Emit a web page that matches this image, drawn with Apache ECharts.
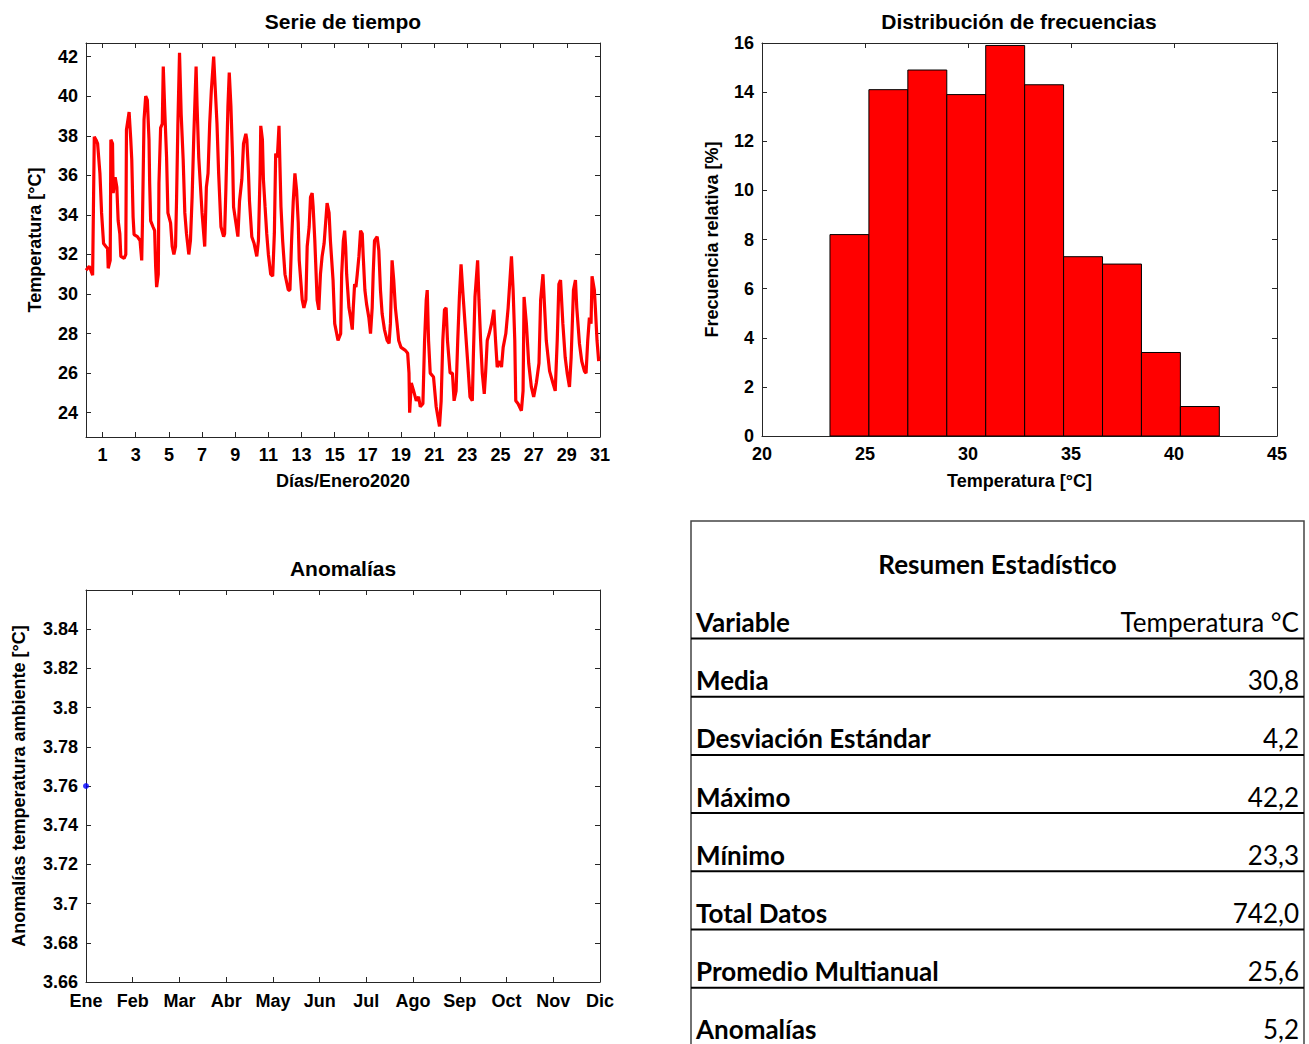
<!DOCTYPE html>
<html>
<head>
<meta charset="utf-8">
<script src="https://cdn.jsdelivr.net/npm/echarts@6/dist/echarts.min.js"></script>
<style>
html,body{margin:0;padding:0;background:#fff;}
#c{width:1309px;height:1044px;}
</style>
</head>
<body>
<div id="c"></div>
<script>
// ---------- DATA ----------
// Serie de tiempo (día del mes, temperatura °C)
const dias = [
0.00,0.20,0.40,0.50,0.60,0.70,0.84,0.94,1.06,1.20,1.30,1.34,1.46,1.50,1.60,1.64,1.76,1.86,1.94,2.04,
2.10,2.30,2.40,2.44,2.60,2.70,2.76,2.84,2.90,3.10,3.26,3.36,3.40,3.50,3.60,3.70,3.80,3.84,3.90,4.04,
4.14,4.20,4.26,4.36,4.40,4.50,4.60,4.66,4.74,4.86,4.94,5.10,5.20,5.30,5.40,5.46,5.54,5.64,5.74,5.86,
5.96,6.06,6.20,6.30,6.40,6.50,6.64,6.70,6.80,7.00,7.16,7.26,7.36,7.46,7.56,7.70,7.80,7.90,8.00,8.14,
8.30,8.36,8.44,8.56,8.64,8.74,8.84,8.90,9.04,9.16,9.26,9.40,9.50,9.64,9.70,9.80,9.86,10.00,10.14,10.30,
10.40,10.50,10.54,10.64,10.70,10.80,10.90,11.00,11.14,11.26,11.36,11.44,11.54,11.64,11.70,11.76,11.86,12.00,12.20,12.30,
12.40,12.50,12.60,12.70,12.80,12.86,13.04,13.14,13.26,13.34,13.46,13.54,13.64,13.70,13.80,13.94,14.04,14.14,14.24,14.36,
14.54,14.66,14.74,14.90,15.00,15.20,15.36,15.42,15.52,15.60,15.66,15.72,15.86,15.96,16.06,16.12,16.20,16.28,16.36,16.46,
16.56,16.66,16.72,16.82,16.92,17.06,17.16,17.26,17.32,17.40,17.56,17.66,17.76,17.86,18.00,18.16,18.28,18.36,18.46,18.56,
18.66,18.76,18.86,19.00,19.26,19.40,19.48,19.52,19.62,19.76,19.92,20.06,20.16,20.32,20.42,20.52,20.58,20.66,20.76,20.96,
21.12,21.22,21.32,21.42,21.52,21.62,21.72,21.80,21.96,22.10,22.20,22.32,22.42,22.52,22.62,22.72,22.86,23.00,23.16,23.30,
23.36,23.46,23.62,23.70,23.80,23.90,24.02,24.10,24.20,24.32,24.46,24.60,24.70,24.80,24.96,25.06,25.16,25.32,25.46,25.66,
25.76,25.86,25.92,26.06,26.26,26.36,26.42,26.56,26.70,26.86,27.00,27.16,27.32,27.42,27.56,27.66,27.76,27.96,28.16,28.30,
28.42,28.52,28.62,28.76,28.90,29.02,29.16,29.26,29.40,29.52,29.60,29.76,29.90,30.06,30.16,30.26,30.36,30.46,30.52,30.66,
30.72,30.82,30.92
];
const temperaturas = [
31.2,31.4,30.95,37.95,37.8,37.6,36.1,34.1,32.55,32.4,32.3,31.3,31.7,37.8,37.6,35.1,35.9,35.4,33.7,33.05,
31.9,31.8,32.0,38.3,39.2,37.8,36.8,33.9,33.0,32.9,32.7,31.7,33.4,38.8,40.0,39.8,37.8,35.6,33.7,33.4,
33.2,31.4,30.35,31.0,35.6,38.4,38.6,41.5,39.5,36.9,34.1,33.6,32.4,32.0,32.4,34.7,38.5,42.2,39.1,36.8,
34.1,33.05,32.0,32.7,34.9,37.95,41.5,39.5,36.9,34.1,32.4,35.4,36.1,38.6,40.3,42.0,40.3,38.6,36.1,33.4,
32.9,33.05,35.4,39.5,41.2,39.5,36.9,34.4,33.6,32.9,34.7,35.8,37.6,38.1,37.8,36.1,34.7,32.9,32.55,31.9,
32.7,36.1,38.5,37.8,35.8,34.4,33.05,32.0,31.0,30.9,33.05,37.1,36.9,38.5,36.4,34.4,32.7,31.0,30.2,30.2,
32.7,34.7,36.1,35.25,33.6,31.7,29.7,29.3,29.7,32.4,33.4,34.9,35.1,34.4,32.7,29.7,29.2,31.0,31.9,32.55,
34.6,34.1,32.7,30.7,28.5,27.65,28.0,31.0,32.7,33.2,32.4,31.0,29.3,28.8,28.2,29.3,30.5,30.35,31.0,31.9,
33.2,33.05,31.9,30.2,29.5,28.8,28.0,29.3,31.0,32.7,32.9,32.2,30.2,29.0,28.2,27.65,27.5,28.5,31.7,30.7,
29.3,28.5,27.65,27.3,27.15,27.0,26.0,24.0,25.5,25.1,24.6,24.8,24.3,24.45,27.65,29.7,30.2,27.65,26.0,25.8,
24.3,23.8,23.3,24.6,27.65,29.2,29.3,27.65,26.0,26.0,24.6,25.1,27.65,29.85,31.5,30.2,28.5,26.8,24.8,24.6,
26.8,29.85,31.7,29.7,27.65,26.0,24.95,26.0,27.65,28.0,28.5,29.2,27.65,26.3,26.6,26.3,27.3,28.0,29.3,31.9,
30.2,27.65,24.6,24.45,24.1,25.1,29.85,28.5,26.5,25.3,24.8,25.5,26.5,29.7,31.0,29.3,27.65,26.1,25.5,25.1,
27.65,30.5,30.7,28.5,26.8,26.0,25.3,26.8,30.2,30.7,29.3,27.5,26.6,26.1,26.0,27.65,28.8,28.5,30.9,30.2,
29.3,27.65,26.6
];
const diasTicks = [1,3,5,7,9,11,13,15,17,19,21,23,25,27,29,31];
const tempTicks = [24,26,28,30,32,34,36,38,40,42];

// Histograma: bordes de clase (°C) y frecuencia relativa (%)
const bordesClase = [23.3,25.19,27.08,28.97,30.86,32.75,34.64,36.53,38.42,40.31,42.2];
const frecRelativa = [8.2,14.1,14.9,13.9,15.9,14.3,7.3,7.0,3.4,1.2];

// Anomalías mensuales
const meses = ['Ene','Feb','Mar','Abr','May','Jun','Jul','Ago','Sep','Oct','Nov','Dic'];
const anomaliaMes = [1];
const anomaliaValor = [3.76];

// Resumen estadístico
const resumenEtiquetas = ['Variable','Media','Desviación Estándar','Máximo','Mínimo','Total Datos','Promedio Multianual','Anomalías'];
const resumenValores = ['Temperatura °C','30,8','4,2','42,2','23,3','742,0','25,6','5,2'];

// ---------- CHART ----------
const FONT = '"Liberation Sans", Arial, sans-serif';
const TFONT = 'Lato, "Open Sans", sans-serif';
const axisCol = '#262626';
const lblStyle = {color:'#000', fontFamily:FONT, fontWeight:'bold', fontSize:18};
const nameStyle = {color:'#000', fontFamily:FONT, fontWeight:'bold', fontSize:18};

function mainX(grid, o){
  return Object.assign({
    type:'value', gridIndex:grid, position:'bottom',
    axisLine:{show:true, onZero:false, lineStyle:{color:axisCol, width:1}},
    axisTick:{show:true, inside:true, length:5, lineStyle:{color:axisCol}},
    axisLabel:Object.assign({margin:9}, lblStyle),
    splitLine:{show:false},
    nameLocation:'middle', nameTextStyle:nameStyle
  }, o);
}
function mainY(grid, o){
  return Object.assign({
    type:'value', gridIndex:grid, position:'left',
    axisLine:{show:true, onZero:false, lineStyle:{color:axisCol, width:1}},
    axisTick:{show:true, inside:true, length:5, lineStyle:{color:axisCol}},
    axisLabel:Object.assign({margin:8}, lblStyle),
    splitLine:{show:false},
    nameLocation:'middle', nameTextStyle:nameStyle
  }, o);
}
function boxX(grid, o){
  return Object.assign({
    type:'value', gridIndex:grid, position:'top',
    axisLine:{show:true, onZero:false, lineStyle:{color:axisCol, width:1}},
    axisTick:{show:true, inside:true, length:5, lineStyle:{color:axisCol}},
    axisLabel:{show:false}, splitLine:{show:false}
  }, o);
}
function boxY(grid, o){
  return Object.assign({
    type:'value', gridIndex:grid, position:'right',
    axisLine:{show:true, onZero:false, lineStyle:{color:axisCol, width:1}},
    axisTick:{show:true, inside:true, length:5, lineStyle:{color:axisCol}},
    axisLabel:{show:false}, splitLine:{show:false}
  }, o);
}

const tsX = {min:0, max:31};
const tsY = {min:22.77, max:42.69};

const xAxis = [
  mainX(0, Object.assign({name:'Días/Enero2020', nameGap:35,
    axisTick:{show:true, inside:true, length:5, lineStyle:{color:axisCol}, customValues:diasTicks},
    axisLabel:Object.assign({margin:9, customValues:diasTicks}, lblStyle)}, tsX)),
  boxX(0, Object.assign({axisTick:{show:true, inside:true, length:5, lineStyle:{color:axisCol}, customValues:diasTicks}}, tsX)),
  mainX(1, {min:20, max:45, interval:5, name:'Temperatura [°C]', nameGap:36}),
  boxX(1, {min:20, max:45, interval:5}),
  mainX(2, {min:1, max:12, interval:1,
    axisLabel:Object.assign({margin:10, formatter:function(v){return meses[Math.round(v)-1]||'';}}, lblStyle)}),
  boxX(2, {min:1, max:12, interval:1})
];
const yAxis = [
  mainY(0, Object.assign({name:'Temperatura [°C]', nameGap:42,
    axisTick:{show:true, inside:true, length:5, lineStyle:{color:axisCol}, customValues:tempTicks},
    axisLabel:Object.assign({margin:8, customValues:tempTicks}, lblStyle)}, tsY)),
  boxY(0, Object.assign({axisTick:{show:true, inside:true, length:5, lineStyle:{color:axisCol}, customValues:tempTicks}}, tsY)),
  mainY(1, {min:0, max:16, interval:2, name:'Frecuencia relativa [%]', nameGap:41}),
  boxY(1, {min:0, max:16, interval:2}),
  mainY(2, {min:3.66, max:3.86, interval:0.02, name:'Anomalías temperatura ambiente [°C]', nameGap:58,
    axisLabel:Object.assign({margin:8, showMaxLabel:false}, lblStyle)}),
  boxY(2, {min:3.66, max:3.86, interval:0.02})
];

const histData = frecRelativa.map((f,i)=>[bordesClase[i], bordesClase[i+1], f]);

const graphics = [];
function txt(x,y,text,font,align){
  graphics.push({type:'text', x:x, y:y, silent:true,
    style:{text:text, font:font, fill:'#000', align:align, textAlign:align, verticalAlign:'middle', textVerticalAlign:'middle'}});
}
txt(343,21,'Serie de tiempo','bold 21px '+FONT,'center');
txt(1019,21,'Distribución de frecuencias','bold 21px '+FONT,'center');
txt(343,568,'Anomalías','bold 21px '+FONT,'center');

// table
const tL = 691, tR = 1304, tTop = 521, row0 = 622, rowH = 58.2;
graphics.push({type:'polyline', silent:true, shape:{points:[[tL,1044],[tL,tTop],[tR,tTop],[tR,1044]]},
  style:{stroke:'#444', lineWidth:1.5, fill:null}});
txt((tL+tR)/2, 564, 'Resumen Estadístico', 'bold 26px '+TFONT, 'center');
resumenEtiquetas.forEach((lab,i)=>{
  const y = row0 + i*rowH;
  txt(tL+5, y, lab, 'bold 26px '+TFONT, 'left');
  txt(tR-5, y, resumenValores[i], 'normal 26px '+TFONT, 'right');
  if (i < resumenEtiquetas.length-1) {
    graphics.push({type:'line', silent:true, shape:{x1:tL, y1:y+16.5, x2:tR, y2:y+16.5},
      style:{stroke:'#000', lineWidth:2}});
  }
});

const option = {
  animation:false,
  backgroundColor:'#fff',
  grid:[
    {left:86, top:43, width:514, height:394},
    {left:762, top:43, width:515, height:393},
    {left:86, top:590, width:514, height:392}
  ],
  xAxis:xAxis,
  yAxis:yAxis,
  series:[
    {type:'line', xAxisIndex:0, yAxisIndex:0, showSymbol:false, symbol:'none',
     data:dias.map((d,i)=>[d, temperaturas[i]]),
     lineStyle:{color:'#ff0000', width:3.2}, itemStyle:{color:'#ff0000'}},
    {type:'custom', xAxisIndex:2, yAxisIndex:2, data:histData,
     encode:{x:[0,1], y:2},
     renderItem:function(params, api){
       const p0 = api.coord([api.value(0), 0]);
       const p1 = api.coord([api.value(1), api.value(2)]);
       return {type:'rect', shape:{x:p0[0], y:p1[1], width:p1[0]-p0[0], height:p0[1]-p1[1]},
         style:{fill:'#ff0000', stroke:'#000', lineWidth:1}};
     }},
    {type:'scatter', xAxisIndex:4, yAxisIndex:4, clip:false, symbolSize:6,
     data:anomaliaMes.map((m,i)=>[m, anomaliaValor[i]]),
     itemStyle:{color:'#0000ff'}}
  ],
  graphic:graphics
};
const chart = echarts.init(document.getElementById('c'), null, {renderer:'svg', width:1309, height:1044});
chart.setOption(option);
</script>
</body>
</html>
